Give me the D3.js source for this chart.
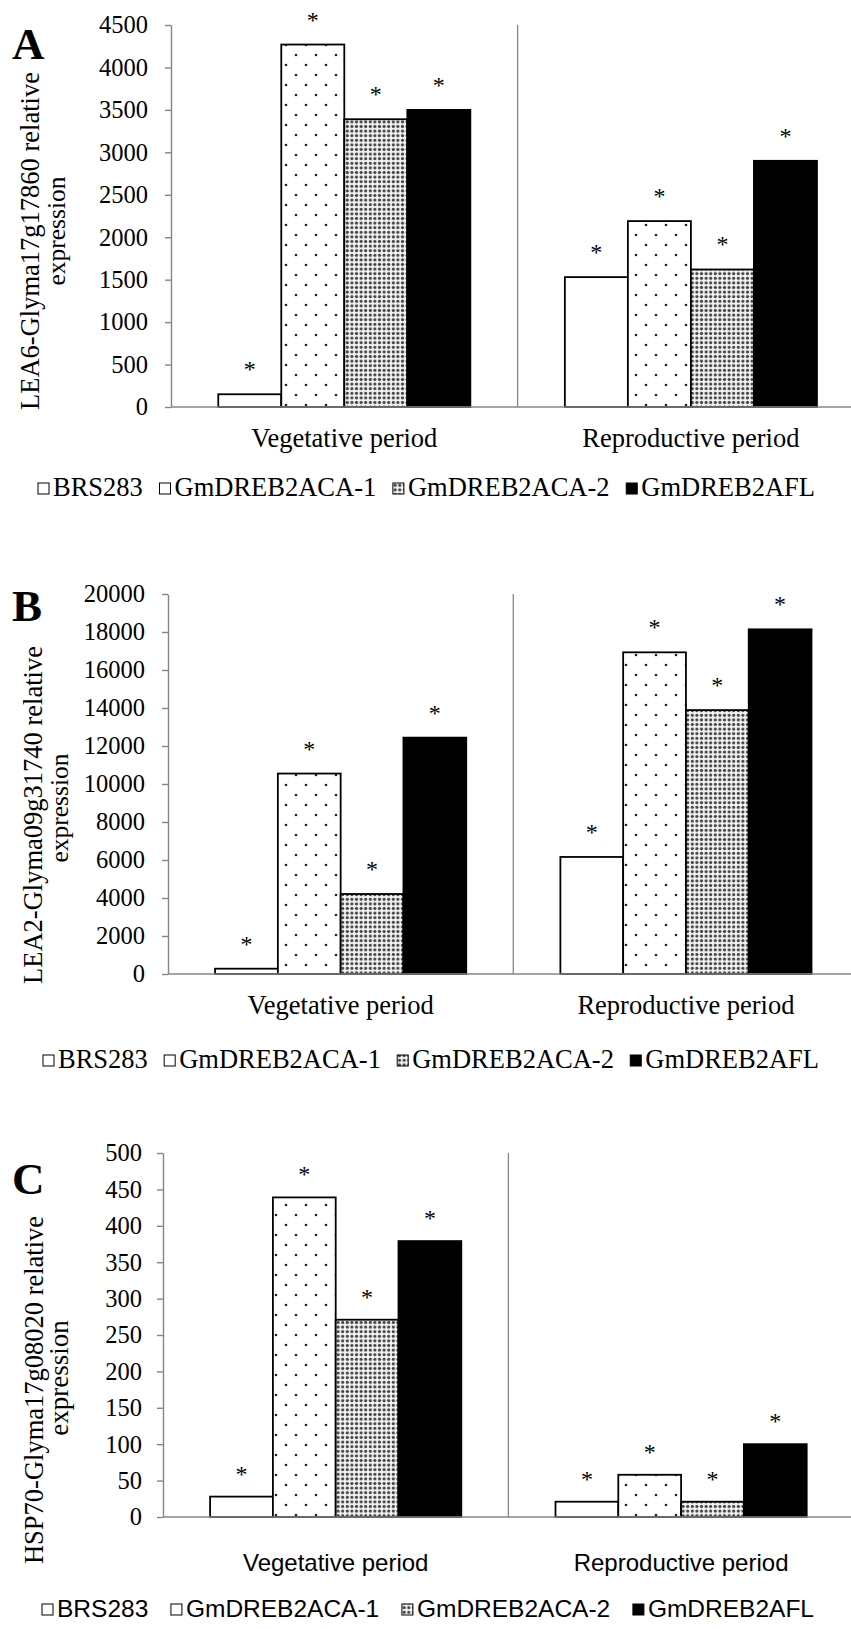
<!DOCTYPE html>
<html>
<head>
<meta charset="utf-8">
<script src="https://cdn.jsdelivr.net/npm/d3@7"></script>
<style>
  html,body{margin:0;padding:0;background:#fff;}
  svg{display:block;}
</style>
</head>
<body>
<div id="chart"></div>
<script>
// Relative expression of 3 stress genes in soybean lines, two growth periods.
const categories = ["Vegetative period", "Reproductive period"];
const lines = ["BRS283", "GmDREB2ACA-1", "GmDREB2ACA-2", "GmDREB2AFL"];

// A: LEA6
const lea6Veg = [150, 4270, 3390, 3500];
const lea6Rep = [1530, 2190, 1620, 2900];
const lea6Ticks = [0, 500, 1000, 1500, 2000, 2500, 3000, 3500, 4000, 4500];

// B: LEA2
const lea2Veg = [280, 10550, 4210, 12440];
const lea2Rep = [6160, 16930, 13890, 18140];
const lea2Ticks = [0, 2000, 4000, 6000, 8000, 10000, 12000, 14000, 16000, 18000, 20000];

// C: HSP70
const hspVeg = [28, 439, 271, 379];
const hspRep = [21, 58, 21, 100];
const hspTicks = [0, 50, 100, 150, 200, 250, 300, 350, 400, 450, 500];

const W = 851, H = 1629;
const AX = "#868686";
const SERIF = "'Liberation Serif','Times New Roman',serif";
const SANS = "'Liberation Sans',Arial,sans-serif";

const svg = d3.select("#chart").append("svg").attr("width", W).attr("height", H);
svg.append("rect").attr("width", W).attr("height", H).attr("fill", "#fff");

// fill patterns (sparse dots / dense dots)
const defs = svg.append("defs");
const sp = defs.append("pattern").attr("id", "sparse").attr("patternUnits", "userSpaceOnUse")
  .attr("width", 20).attr("height", 20);
sp.append("rect").attr("width", 20).attr("height", 20).attr("fill", "#fff");
sp.append("circle").attr("cx", 6).attr("cy", 5).attr("r", 1.3).attr("fill", "#222");
sp.append("circle").attr("cx", 16).attr("cy", 15).attr("r", 1.3).attr("fill", "#222");
const dn = defs.append("pattern").attr("id", "dense").attr("patternUnits", "userSpaceOnUse")
  .attr("width", 4.6).attr("height", 4.6);
dn.append("rect").attr("width", 4.6).attr("height", 4.6).attr("fill", "#f4f4f4");
dn.append("circle").attr("cx", 2.3).attr("cy", 2.3).attr("r", 1.6).attr("fill", "#444");

const fills = ["#fff", "url(#sparse)", "url(#dense)", "#000"];

function panel(p){
  const g = svg.append("g");
  const font = p.sans ? SANS : SERIF;
  const y = d3.scaleLinear().domain([0, d3.max(p.ticks)]).range([p.base, p.top]);
  const x = d3.scaleBand().domain(categories).range([p.x0, p.x0 + 2*p.band]);
  const xs = d3.scaleBand().domain(lines).range([0, x.bandwidth()]).paddingInner(0).paddingOuter(0.75);
  const rows = [{cat: categories[0], vals: p.veg}, {cat: categories[1], vals: p.rep}];

  // divider between the two periods
  g.append("line").attr("x1", x(categories[1])).attr("x2", x(categories[1]))
    .attr("y1", y(d3.max(p.ticks))).attr("y2", y(0)).attr("stroke", AX).attr("stroke-width", 1.3);

  rows.forEach(r=>{
    r.vals.forEach((v,j)=>{
      const bx = x(r.cat) + xs(lines[j]);
      g.append("rect").attr("x", bx).attr("y", y(v)).attr("width", xs.bandwidth())
        .attr("height", y(0)-y(v)).attr("fill", fills[j]).attr("stroke", "#000").attr("stroke-width", 1.8);
      g.append("text").attr("x", bx + xs.bandwidth()/2).attr("y", y(v) - p.star)
        .attr("text-anchor", "middle").attr("font-family", SERIF).attr("font-size", 24).text("*");
    });
  });

  // y axis
  const ya = g.append("g").attr("transform", `translate(${p.x0},0)`)
    .call(d3.axisLeft(y).tickValues(p.ticks).tickSize(6).tickSizeOuter(0).tickPadding(p.pad).tickFormat(d3.format("d")));
  ya.select(".domain").attr("stroke", AX).attr("stroke-width", 1.4);
  ya.selectAll(".tick line").attr("stroke", AX).attr("stroke-width", 1.4);
  ya.selectAll(".tick text").attr("font-family", SERIF).attr("font-size", 24.5).attr("fill", "#000");

  // category axis (base line runs off the right edge)
  g.append("line").attr("x1", p.x0).attr("x2", W).attr("y1", y(0)).attr("y2", y(0))
    .attr("stroke", AX).attr("stroke-width", 1.4);
  g.selectAll(".cat").data(categories).join("text").attr("class", "cat")
    .attr("x", d=> x(d) + x.bandwidth()/2).attr("y", p.catY)
    .attr("text-anchor", "middle").attr("font-family", font).attr("font-size", p.catSize).text(d=>d);

  // y title, two lines
  p.title.forEach((t,i)=>{
    g.append("text").attr("transform", `translate(${p.tX[i]},${p.tY[i]}) rotate(-90)`)
      .attr("text-anchor", "middle").attr("font-family", SERIF).attr("font-size", p.tSize[i]).text(t);
  });

  // panel letter
  g.append("text").attr("x", 12).attr("y", p.letterY).attr("font-family", SERIF)
    .attr("font-weight", "bold").attr("font-size", 45).text(p.letter);

  // legend, spread across its measured span
  const lg = g.append("g");
  const items = lines.map((name,j)=>{
    const it = lg.append("g");
    it.append("rect").attr("x", 0).attr("y", p.legY - 13).attr("width", 11).attr("height", 11)
      .attr("fill", fills[j] === "url(#sparse)" ? "#fff" : fills[j]).attr("stroke", "#000").attr("stroke-width", 1);
    const tx = it.append("text").attr("x", 15).attr("y", p.legY).attr("font-family", font)
      .attr("font-size", p.legSize).text(name);
    return {it, w: 15 + tx.node().getComputedTextLength()};
  });
  const total = d3.sum(items, d=>d.w);
  const gap = (p.legR - p.legL - total) / (items.length - 1);
  let cx = p.legL;
  items.forEach(d=>{ d.it.attr("transform", `translate(${cx},0)`); cx += d.w + gap; });
}

panel({letter:"A", letterY:59, title:["LEA6-Glyma17g17860 relative", "expression"],
  tSize:[26.5, 25.5], tX:[38.5, 65], tY:[241, 231],
  veg:lea6Veg, rep:lea6Rep, ticks:lea6Ticks, top:25, base:407, x0:171, band:346.6,
  pad:17, star:17, catY:447, catSize:26.5, legY:496, legSize:26.5, legL:38, legR:815, sans:false});

panel({letter:"B", letterY:621, title:["LEA2-Glyma09g31740 relative", "expression"],
  tSize:[26.5, 25.5], tX:[41.5, 68], tY:[815, 808],
  veg:lea2Veg, rep:lea2Rep, ticks:lea2Ticks, top:594, base:974, x0:168, band:345.3,
  pad:17, star:17, catY:1014, catSize:26.5, legY:1068, legSize:26.5, legL:43, legR:819, sans:false});

panel({letter:"C", letterY:1194, title:["HSP70-Glyma17g08020 relative", "expression"],
  tSize:[26.5, 27], tX:[43, 68], tY:[1390, 1378],
  veg:hspVeg, rep:hspRep, ticks:hspTicks, top:1153, base:1517, x0:163, band:345.4,
  pad:15, star:15, catY:1571, catSize:24, legY:1617, legSize:24.5, legL:42, legR:814, sans:true});
</script>
</body>
</html>
